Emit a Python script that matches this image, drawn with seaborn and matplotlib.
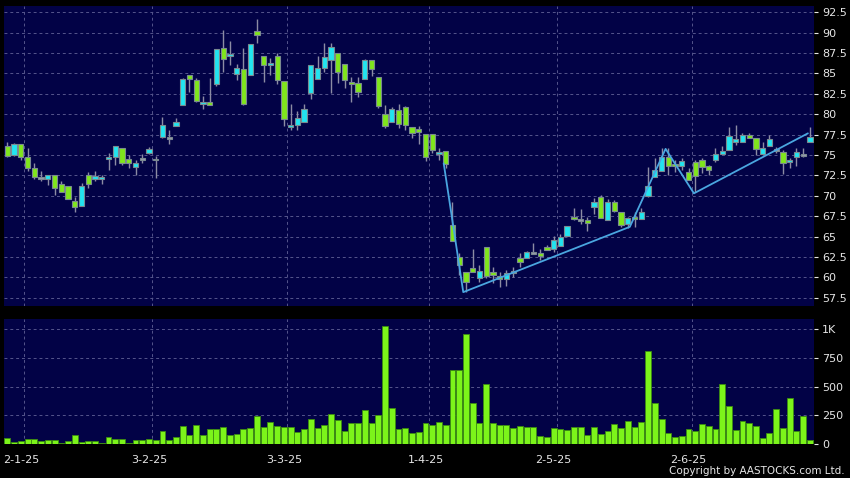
import numpy as np
import pandas as pd
import matplotlib
matplotlib.use("Agg")
import matplotlib.pyplot as plt
import seaborn as sns

# daily candles, 27 Dec 2024 to late June 2025 (one entry per trading day)
opens = [76.1, 75.0, 76.3, 74.7, 73.4, 72.15, 72.0, 72.5, 71.5, 71.2,
         69.4, 68.7, 72.5, 72.0, 72.0, 74.6, 74.7, 75.9, 74.46, 73.5,
         74.54, 75.27, 74.45, 77.24, 77.1, 78.59, 81.12, 84.75, 84.14, 81.2,
         81.44, 83.69, 88.05, 87.1, 84.87, 85.48, 84.75, 90.22, 87.07, 85.97,
         87.07, 84.01, 78.38, 78.67, 79.0, 82.55, 84.26, 85.6, 86.63, 87.52,
         86.1, 84.0, 83.85, 84.26, 86.59, 84.59, 80.06, 79.0, 80.55, 80.9,
         78.47, 78.14, 77.57, 77.53, 75.12, 75.5, 66.43, 62.47, 60.63, 61.12,
         59.9, 63.7, 60.72, 60.23, 59.78, 60.64, 62.35, 62.35, 62.96, 63.04,
         63.7, 63.45, 63.9, 65.08, 67.37, 67.08, 67.04, 68.63, 69.9, 67.04,
         69.28, 68.06, 66.55, 67.37, 67.12, 70.02, 72.26, 73.08, 74.71, 73.94,
         73.61, 72.96, 74.18, 74.43, 73.61, 74.39, 75.12, 75.61, 76.59, 76.63,
         77.45, 77.04, 75.12, 76.1, 75.6, 75.32, 74.1, 74.71, 75.04, 76.55]
highs = [76.6, 76.5, 76.3, 75.9, 74.0, 73.0, 72.6, 72.5, 71.85, 71.2,
         69.8, 71.6, 72.9, 73.0, 72.5, 75.3, 76.05, 75.9, 75.0, 74.4,
         75.1, 76.0, 74.9, 79.7, 78.06, 79.5, 84.4, 84.75, 84.38, 82.2,
         84.4, 87.93, 90.3, 88.95, 86.2, 88.05, 88.6, 91.6, 87.07, 86.83,
         87.52, 84.01, 81.24, 80.4, 81.3, 85.97, 87.1, 88.67, 88.67, 87.52,
         86.1, 84.6, 84.5, 86.71, 86.59, 84.59, 81.1, 80.9, 81.2, 81.0,
         78.47, 78.55, 77.57, 77.53, 75.8, 75.5, 69.2, 62.96, 60.63, 63.5,
         61.5, 63.7, 61.33, 60.72, 60.9, 61.33, 62.96, 63.29, 64.2, 63.53,
         64.0, 65.08, 65.3, 66.35, 68.47, 68.4, 67.37, 69.77, 70.1, 69.6,
         69.5, 68.06, 67.45, 68.06, 68.47, 73.5, 74.59, 75.81, 75.81, 74.4,
         74.59, 73.45, 74.4, 74.59, 73.77, 75.81, 76.1, 78.47, 78.67, 77.73,
         77.65, 77.04, 76.63, 77.45, 76.0, 75.6, 74.6, 75.81, 75.9, 78.47]
lows = [74.8, 74.9, 74.4, 73.0, 72.1, 71.8, 71.3, 70.1, 70.5, 69.6,
        68.05, 68.7, 71.0, 71.8, 71.5, 73.1, 73.8, 73.8, 73.4, 72.5,
        74.0, 75.1, 72.2, 77.04, 76.3, 78.5, 81.12, 82.75, 81.5, 80.6,
        81.1, 83.5, 85.2, 86.0, 84.2, 81.1, 84.75, 88.67, 84.0, 84.8,
        83.7, 78.5, 78.06, 78.06, 79.0, 81.8, 84.26, 85.2, 82.6, 83.85,
        83.16, 81.5, 82.14, 84.26, 84.67, 80.7, 78.34, 79.0, 78.3, 78.06,
        77.04, 76.4, 74.3, 75.2, 74.4, 73.4, 64.47, 60.3, 58.27, 60.63,
        59.4, 59.9, 59.3, 58.8, 58.9, 60.1, 61.33, 62.35, 62.9, 62.1,
        63.37, 63.17, 63.9, 65.08, 67.04, 66.5, 65.74, 67.74, 67.29, 67.04,
        68.06, 66.2, 66.1, 66.2, 67.12, 69.9, 72.26, 73.08, 72.55, 72.96,
        73.16, 71.94, 70.5, 72.8, 72.55, 74.18, 75.12, 75.61, 76.2, 76.63,
        77.04, 75.0, 75.12, 76.1, 75.3, 72.67, 73.37, 73.65, 74.7, 76.55]
closes = [74.9, 76.3, 74.75, 73.4, 72.25, 72.15, 72.6, 71.0, 70.5, 69.6,
          68.6, 71.2, 71.4, 72.4, 72.25, 74.7, 76.05, 74.05, 74.05, 74.0,
          74.54, 75.7, 74.45, 78.63, 77.1, 79.1, 84.26, 84.26, 81.57, 81.48,
          81.16, 87.93, 86.71, 87.36, 85.6, 81.28, 88.54, 89.65, 85.97, 86.22,
          84.22, 79.36, 78.67, 79.49, 80.6, 85.97, 85.6, 87.0, 88.26, 85.16,
          84.18, 83.69, 82.7, 86.59, 85.48, 81.0, 78.55, 80.6, 78.75, 78.67,
          77.65, 77.8, 74.71, 75.6, 75.4, 73.85, 64.47, 61.49, 59.41, 60.63,
          60.8, 60.2, 60.27, 59.82, 60.6, 60.64, 61.86, 63.08, 62.96, 62.67,
          63.37, 64.6, 64.92, 66.35, 67.12, 67.08, 66.63, 69.2, 67.29, 69.28,
          68.14, 66.39, 67.24, 67.2, 68.06, 71.24, 73.16, 74.71, 73.65, 73.61,
          74.26, 71.94, 72.43, 73.57, 73.16, 75.12, 75.52, 77.32, 76.9, 77.45,
          77.04, 75.69, 75.9, 76.9, 75.6, 73.98, 74.43, 75.32, 75.04, 77.16]
volumes = [55, 15, 26, 41, 41, 29, 38, 38, 12, 29,
           81, 17, 29, 29, 9, 58, 46, 46, 12, 32,
           32, 41, 32, 113, 32, 64, 157, 75, 165, 78,
           128, 128, 151, 75, 84, 128, 142, 241, 145, 189,
           154, 145, 145, 102, 128, 218, 139, 162, 258, 212,
           113, 186, 186, 299, 183, 249, 1030, 310, 128, 136,
           93, 102, 186, 162, 191, 162, 641, 647, 960, 360,
           180, 525, 186, 162, 162, 136, 160, 145, 151, 70,
           58, 136, 131, 119, 148, 145, 81, 148, 84, 110,
           177, 142, 203, 148, 189, 812, 357, 218, 93, 58,
           67, 131, 113, 174, 160, 133, 519, 331, 122, 200,
           183, 160, 52, 93, 307, 142, 403, 110, 247, 32]

# overlay line drawn on the price panel (bar position, price)
line_x = [64.7, 67.6, 92.3, 97.6, 101.8, 118.7]
line_y = [73.97, 58.2, 66.2, 75.75, 70.3, 77.65]

date_labels = ["2-1-25", "3-2-25", "3-3-25", "1-4-25", "2-5-25", "2-6-25"]
date_bars = [3, 22, 42, 63, 82, 102]
price_ticks = [57.5, 60, 62.5, 65, 67.5, 70, 72.5, 75, 77.5, 80, 82.5, 85, 87.5, 90, 92.5]
vol_ticks = [0, 250, 500, 750, 1000]
vol_labels = ["0", "250", "500", "750", "1K"]

BG = "#020246"
GRID = "#55558c"
TXT = "#e6e6e6"
UP = "#22e4f0"
DOWN = "#80e61c"
FLAT = "#9a9ab0"

sns.set_style("dark", rc={"figure.facecolor": "black", "axes.facecolor": BG,
                          "axes.edgecolor": BG, "text.color": TXT,
                          "xtick.color": TXT, "ytick.color": TXT})
plt.rcParams["font.family"] = ["DejaVu Sans"]

df = pd.DataFrame({"open": opens, "high": highs, "low": lows, "close": closes, "vol": volumes})
df["bar"] = np.arange(len(df))
df["color"] = np.where(df.close > df.open, UP, np.where(df.close < df.open, DOWN, FLAT))
body = (df.close - df.open).abs()
df["h"] = np.maximum(body, 0.22)
df["b"] = np.minimum(df.open, df.close) - (df.h - body) / 2

fig = plt.figure(figsize=(8.5, 4.78), dpi=100)
ax = fig.add_axes([0.0047, 0.3598, 0.9529, 0.628])
axv = fig.add_axes([0.0047, 0.0711, 0.9529, 0.2615])

grid_pos = [b - 0.5 for b in date_bars]
tick_pos = [b - 1 for b in date_bars]

# price panel
ax.vlines(df.bar, df.low, df.high, color="#8c8ca4", lw=1, zorder=2)
ax.bar(df.bar, df.h, bottom=df.b, width=0.78, color=df.color,
       edgecolor="#7a8a90", linewidth=0.8, zorder=3)
sns.lineplot(x=line_x, y=line_y, color="#4aa6e0", lw=1.3, ax=ax, zorder=4)
ax.set_xlim(-0.5, 119.6)
ax.set_ylim(56.5, 93.27)
ax.set_xticks(grid_pos)
ax.set_xticklabels([])
ax.tick_params(axis="x", length=0)
ax.yaxis.tick_right()
ax.set_yticks(price_ticks)
ax.set_yticklabels([f"{t:g}" for t in price_ticks])
ax.tick_params(axis="y", length=3, width=0.8, pad=3, labelsize=8, color=TXT)
ax.grid(True, color=GRID, linestyle=(0, (3, 3)), lw=0.7)
ax.set_axisbelow(True)
for s in ax.spines.values():
    s.set_visible(False)

# volume panel
sns.barplot(x=df.bar, y=df.vol, native_scale=True, width=0.88, color="#7cf41a",
            saturation=1, edgecolor="#3c8c12", linewidth=0.6, errorbar=None, ax=axv, zorder=3)
axv.set_xlim(-0.5, 119.6)
axv.set_ylim(0, 1087)
axv.set_xlabel("")
axv.set_ylabel("")
axv.set_xticks(tick_pos)
axv.set_xticklabels(date_labels)
axv.set_xticks(grid_pos, minor=True)
axv.tick_params(axis="x", which="major", length=4, width=0.8, pad=4, labelsize=8, color=TXT)
axv.tick_params(axis="x", which="minor", length=0)
axv.yaxis.tick_right()
axv.set_yticks(vol_ticks)
axv.set_yticklabels(vol_labels)
axv.tick_params(axis="y", length=3, width=0.8, pad=3, labelsize=8, color=TXT)
axv.grid(False, axis="x", which="major")
axv.grid(True, axis="x", which="minor", color=GRID, linestyle=(0, (3, 3)), lw=0.7)
axv.grid(True, axis="y", color=GRID, linestyle=(0, (3, 3)), lw=0.7)
axv.set_axisbelow(True)
for s in axv.spines.values():
    s.set_visible(False)

fig.text(0.994, 0.0136, "Copyright by AASTOCKS.com Ltd.", ha="right", va="center",
         fontsize=7.5, color=TXT)

fig.savefig("out.png", dpi=100, facecolor="black")
